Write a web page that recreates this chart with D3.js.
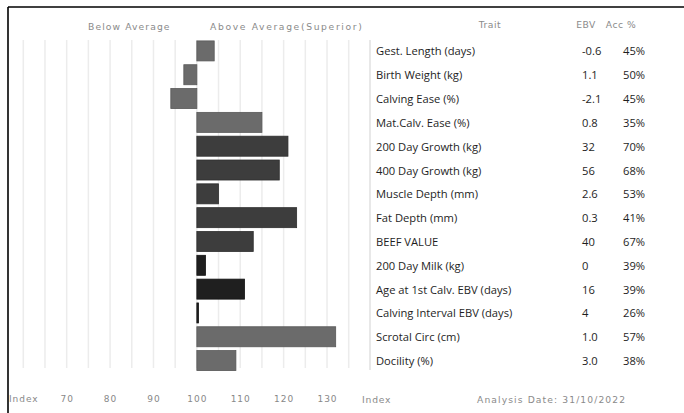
<!DOCTYPE html>
<html><head><meta charset="utf-8">
<script src="https://cdn.jsdelivr.net/npm/d3@7/dist/d3.min.js"></script>
<style>body{margin:0;background:#fff}svg{display:block}</style>
</head><body>
<script>
const traits = ["Gest. Length (days)","Birth Weight (kg)","Calving Ease (%)","Mat.Calv. Ease (%)","200 Day Growth (kg)","400 Day Growth (kg)","Muscle Depth (mm)","Fat Depth (mm)","BEEF VALUE","200 Day Milk (kg)","Age at 1st Calv. EBV (days)","Calving Interval EBV (days)","Scrotal Circ (cm)","Docility (%)"];
const indexValues = [104, 97, 94, 115, 121, 119, 105, 123, 113, 102, 111, 100.4, 132, 109];
const ebv = ["-0.6","1.1","-2.1","0.8","32","56","2.6","0.3","40","0","16","4","1.0","3.0"];
const acc = ["45%","50%","45%","35%","70%","68%","53%","41%","67%","39%","39%","26%","57%","38%"];
const groups = ["a","a","a","a","b","b","b","b","b","c","c","c","a","a"];
const tickValues = [60,70,80,90,100,110,120,130];
const tickLabels = ["Index","70","80","90","100","110","120","130"];
const gridValues = d3.range(60, 136, 5);

const W = 684, H = 413;
const svg = d3.select("body").append("svg").attr("width", W).attr("height", H);
const font = "'Open Sans', sans-serif";
const small = "'DejaVu Sans', sans-serif";

const x = d3.scaleLinear().domain([60, 135]).range([23.3, 348.7]);
const y = d3.scaleBand().domain(traits).range([39, 372.5]).paddingInner(0.16).paddingOuter(0.08);
const fill = d3.scaleOrdinal().domain(["a","b","c"]).range(["#6b6b6b","#3d3d3d","#1f1f1f"]);
const strokeC = d3.scaleOrdinal().domain(["a","b","c"]).range(["#585858","#2e2e2e","#141414"]);

// grid
svg.append("g").selectAll("line").data(gridValues).join("line")
  .attr("x1", d => x(d)).attr("x2", d => x(d))
  .attr("y1", 40).attr("y2", 368)
  .attr("stroke", "#ececec").attr("stroke-width", 1.5);

// bars
svg.append("g").selectAll("rect").data(traits).join("rect")
  .attr("x", (d,i) => Math.min(x(100), x(indexValues[i])))
  .attr("width", (d,i) => Math.max(1, Math.abs(x(indexValues[i]) - x(100))))
  .attr("y", d => y(d))
  .attr("height", y.bandwidth())
  .attr("fill", (d,i) => fill(groups[i]))
  .attr("stroke", (d,i) => strokeC(groups[i]))
  .attr("stroke-width", 0.8);

// axis
const axis = d3.axisBottom(x).tickValues(tickValues).tickSize(0)
  .tickFormat((d,i) => tickLabels[i]);
const ag = svg.append("g").attr("transform", "translate(0,393)").call(axis);
ag.select(".domain").remove();
ag.selectAll("text").attr("font-family", small).attr("font-size", 9).attr("letter-spacing", 1).attr("fill", "#888");

// headings
const hdr = (t, xx, yy, anchor, ls) => svg.append("text").text(t).attr("x", xx).attr("y", yy)
  .attr("text-anchor", anchor || "start").attr("font-family", small).attr("font-size", 9.2)
  .attr("letter-spacing", ls == null ? 1.1 : ls).attr("fill", "#8a8a8a");
hdr("Below Average", 88, 30);
hdr("Above Average(Superior)", 210, 30, "start", 1.65);
hdr("Trait", 490, 28, "middle", 0.5);
hdr("EBV", 586, 28, "middle", 0.5);
hdr("Acc %", 621, 28, "middle", 0.5);
hdr("Index", 362, 403, "start", 0.8);
hdr("Analysis Date:  31/10/2022", 477, 403);

// table divider
svg.append("line").attr("x1", 370).attr("x2", 370).attr("y1", 40).attr("y2", 370)
  .attr("stroke", "#e0e0e0").attr("stroke-width", 1.5);

// table rows
const rows = svg.append("g").selectAll("g").data(traits).join("g")
  .attr("transform", d => `translate(0,${y(d) + y.bandwidth()/2 + 4.5})`);
rows.append("text").text(d => d).attr("x", 376)
  .attr("font-family", font).attr("font-size", 11.2).attr("font-weight", 500).attr("fill", "#1e1e1e");
rows.append("text").text((d,i) => ebv[i]).attr("x", 582)
  .attr("font-family", font).attr("font-size", 11.2).attr("font-weight", 500).attr("fill", "#1e1e1e");
rows.append("text").text((d,i) => acc[i]).attr("x", 623)
  .attr("font-family", font).attr("font-size", 11.2).attr("font-weight", 500).attr("fill", "#1e1e1e");

// frame
svg.append("line").attr("x1", 8).attr("x2", W).attr("y1", 7).attr("y2", 7).attr("stroke", "#000").attr("stroke-width", 1.6);
svg.append("line").attr("x1", 8).attr("x2", 8).attr("y1", 7).attr("y2", H).attr("stroke", "#000").attr("stroke-width", 1.6);
</script>
</body></html>
